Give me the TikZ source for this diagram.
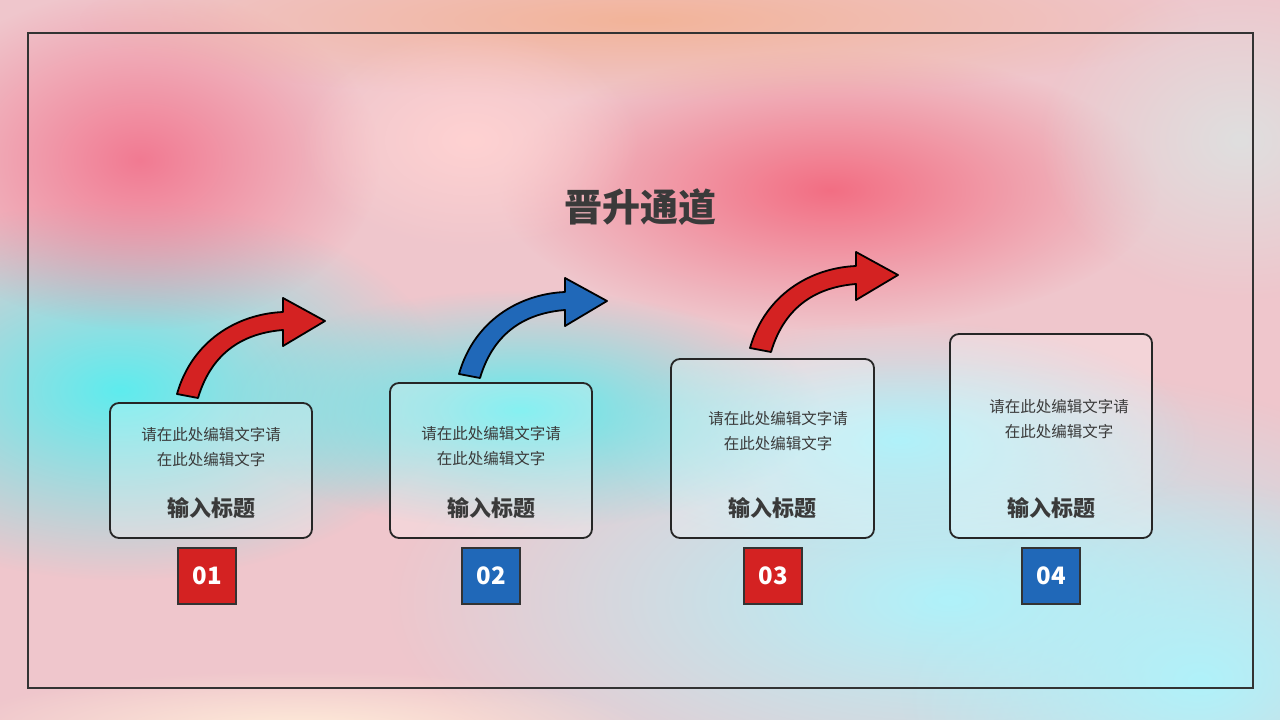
\documentclass[tikz,border=0pt]{standalone}
\usepackage{fontspec}
\setmainfont{Noto Sans CJK SC}
\usetikzlibrary{fadings}
\definecolor{bgc}{HTML}{EFC6CC}
\definecolor{rd}{HTML}{D42222}
\definecolor{bl}{HTML}{2068B8}
\definecolor{tx}{HTML}{3A3A3A}
\definecolor{cy}{HTML}{5EECEE}
\definecolor{pk}{HTML}{F27A92}
\definecolor{lc}{HTML}{B0F2FA}
\tikzfading[name=softc, inner color=transparent!0, outer color=transparent!100]
\tikzset{
  blob/.style={path fading=softc},
  card/.style={draw=black!85,line width=1.8pt,rounded corners=9pt,fill=white,fill opacity=0.25,text opacity=1},
  numbox/.style={draw=black!80,line width=1.2pt,minimum width=58pt,minimum height=56pt,text=white,font=\bfseries\fontsize{24}{28}\selectfont},
  body/.style={text=tx,font=\fontsize{15.5}{25}\selectfont,align=center},
  lbl/.style={text=tx,font=\bfseries\fontsize{22}{26}\selectfont},
}
\newcommand{\curvedarrow}[2]{%
  \draw[black,line width=1.8pt,line join=round,fill=#2,shift={#1}] (-10,-2) .. controls (5,-55) and (50,-82) .. (96,-84) -- (96,-98) -- (138,-75) -- (96,-50) -- (96,-66) .. controls (58,-63) and (25,-45) .. (11,2) -- cycle;}
\begin{document}
\begin{tikzpicture}[x=1pt,y=-1pt]
\useasboundingbox (0,0) rectangle (1280,720);
\fill[bgc] (0,0) rectangle (1280,720);
\begin{scope}
\clip (0,0) rectangle (1280,720);
\fill[blob,lc] (950,600) ellipse (560 and 240);
\fill[blob,lc] (1200,680) ellipse (300 and 200);
\fill[blob,lc] (900,440) ellipse (300 and 120);
\fill[blob,cy] (120,390) ellipse (330 and 190);
\fill[blob,cy] (520,410) ellipse (300 and 120);
\fill[blob,pk] (140,160) ellipse (240 and 170);
\fill[blob,pk!90!red] (830,190) ellipse (330 and 140);
\fill[blob,orange!25!bgc] (640,20) ellipse (560 and 80);
\fill[blob,gray!25!white] (1240,140) ellipse (200 and 160);
\fill[blob,pink!70!white] (470,140) ellipse (170 and 110);
\fill[blob,orange!15!white] (300,730) ellipse (350 and 60);
\end{scope}
\draw[black!80,line width=1.2pt] (28,33) rectangle (1253,688);
\node[text=tx,font=\bfseries\fontsize{38}{42}\selectfont] (title) at (640,207) {晋升通道};
\node[card,minimum width=202pt,minimum height=135pt] (c1) at (211,470.5) {};
\node[card,minimum width=202pt,minimum height=155pt] (c2) at (491,460.5) {};
\node[card,minimum width=203pt,minimum height=179pt] (c3) at (772.5,448.5) {};
\node[card,minimum width=202pt,minimum height=204pt] (c4) at (1051,436) {};
\node[body] (t1) at (211,447) {请在此处编辑文字请\\在此处编辑文字};
\node[body] (t2) at (491,446.5) {请在此处编辑文字请\\在此处编辑文字};
\node[body] (t3) at (778,431.5) {请在此处编辑文字请\\在此处编辑文字};
\node[body] (t4) at (1059,419.5) {请在此处编辑文字请\\在此处编辑文字};
\node[lbl] (l1) at (211,508) {输入标题};
\node[lbl] (l2) at (491,508) {输入标题};
\node[lbl] (l3) at (772,508) {输入标题};
\node[lbl] (l4) at (1051,508) {输入标题};
\node[numbox,fill=rd] (n1) at (207,576) {01};
\node[numbox,fill=bl] (n2) at (491,576) {02};
\node[numbox,fill=rd] (n3) at (773,576) {03};
\node[numbox,fill=bl] (n4) at (1051,576) {04};
\curvedarrow{(187,396)}{rd}
\curvedarrow{(469,376)}{bl}
\curvedarrow{(760,350)}{rd}
\end{tikzpicture}
\end{document}
